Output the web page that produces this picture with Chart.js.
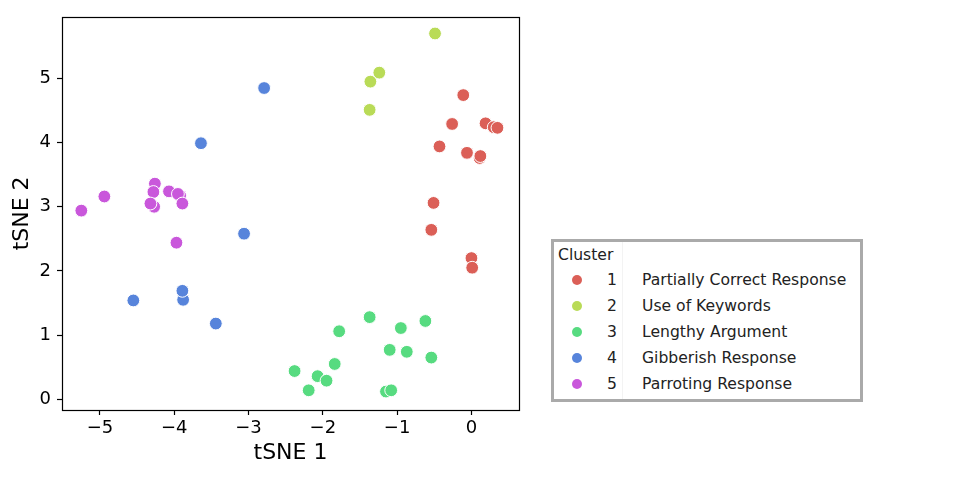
<!DOCTYPE html>
<html>
<head>
<meta charset="utf-8">
<script src="https://cdn.jsdelivr.net/npm/chart.js@4"></script>
<style>
  html, body { margin: 0; padding: 0; background: #fff; }
  #wrap { position: relative; width: 960px; height: 480px; }
  #legend {
    position: absolute; left: 551px; top: 239px; width: 306px; height: 157px;
    border: 3px solid #aaaaaa; background: #fff;
    font-family: "DejaVu Sans", sans-serif; font-size: 15.6px; color: #222;
  }
  #legend .title { position: absolute; left: 4px; top: 2px; line-height: 22px; }
  #legend .row { position: absolute; left: 0; height: 22px; line-height: 22px; width: 100%; }
  #legend .dot { position: absolute; left: 18px; top: 6px; width: 10px; height: 10px; border-radius: 50%; }
  #legend .num { position: absolute; left: 48px; width: 20px; text-align: center; }
  #legend .lab { position: absolute; left: 88px; white-space: nowrap; }
  #legend .sep { position: absolute; left: 68px; top: 0; bottom: 0; width: 1px; background: #f3f3f3; }
</style>
</head>
<body>
<div id="wrap">
  <canvas id="c" width="960" height="480"></canvas>
  <div id="legend"></div>
</div>
<script>
// ---- data ----
const clusterIds = ["1", "2", "3", "4", "5"];
const clusterNames = ["Partially Correct Response", "Use of Keywords", "Lengthy Argument", "Gibberish Response", "Parroting Response"];
const clusterColors = ["#db5f57", "#b9db57", "#57db80", "#5784db", "#c957db"];
const legendTitle = "Cluster";
const xTitle = "tSNE 1";
const yTitle = "tSNE 2";
const xTickValues = [-5, -4, -3, -2, -1, 0];
const yTickValues = [0, 1, 2, 3, 4, 5];

const c1x = [-0.11, -0.26, 0.19, 0.30, 0.35, -0.43, -0.06, 0.11, 0.12, -0.51, -0.54, 0.00, 0.01];
const c1y = [4.74, 4.29, 4.30, 4.24, 4.23, 3.94, 3.84, 3.76, 3.79, 3.06, 2.64, 2.20, 2.05];
const c2x = [-0.49, -1.24, -1.36, -1.37];
const c2y = [5.70, 5.09, 4.95, 4.51];
const c3x = [-1.37, -1.78, -0.62, -0.95, -1.10, -0.87, -0.54, -1.84, -2.38, -2.07, -1.95, -2.19, -1.15, -1.08];
const c3y = [1.28, 1.06, 1.22, 1.11, 0.77, 0.74, 0.65, 0.55, 0.44, 0.36, 0.29, 0.14, 0.12, 0.14];
const c4x = [-2.79, -3.64, -3.06, -3.88, -3.89, -4.55, -3.44];
const c4y = [4.85, 3.99, 2.58, 1.55, 1.69, 1.54, 1.18];
const c5x = [-5.25, -4.94, -4.26, -4.28, -4.07, -3.92, -3.95, -3.89, -4.27, -4.32, -3.97];
const c5y = [2.94, 3.16, 3.36, 3.23, 3.24, 3.17, 3.20, 3.05, 3.00, 3.05, 2.44];

const clusterX = [c1x, c2x, c3x, c4x, c5x];
const clusterY = [c1y, c2y, c3y, c4y, c5y];

// ---- chart ----
const fam = "'DejaVu Sans', sans-serif";
const datasets = clusterIds.map((id, i) => ({
  label: id,
  data: clusterX[i].map((x, k) => ({ x: x, y: clusterY[i][k] })),
  backgroundColor: clusterColors[i],
  borderColor: "#ffffff",
  borderWidth: 1,
  pointRadius: 6.4,
  pointHoverRadius: 6.4
}));

const minus = v => (v < 0 ? "\u2212" + Math.abs(v) : String(v));

const framePlugin = {
  id: "frame",
  afterDraw(chart) {
    const a = chart.chartArea, ctx = chart.ctx;
    ctx.save();
    ctx.strokeStyle = "#000";
    ctx.lineWidth = 1.2;
    ctx.strokeRect(Math.round(a.left) + 0.5, Math.round(a.top) + 0.5,
                   Math.round(a.right - a.left), Math.round(a.bottom - a.top));
    ctx.restore();
  }
};

new Chart(document.getElementById("c"), {
  type: "scatter",
  data: { datasets },
  options: {
    responsive: false,
    animation: false,
    devicePixelRatio: 1,
    layout: { padding: { top: 14, right: 441, left: 0, bottom: 0 } },
    plugins: { legend: { display: false }, tooltip: { enabled: false } },
    scales: {
      x: {
        type: "linear", min: -5.51, max: 0.64,
        afterFit: s => { s.height = 70; },
        afterBuildTicks: s => { s.ticks = xTickValues.map(v => ({ value: v })); },
        grid: { drawOnChartArea: false, drawTicks: true, tickLength: 5, tickColor: "#000", tickWidth: 1.2 },
        border: { display: false },
        ticks: { color: "#000", font: { family: fam, size: 18 }, padding: 3, callback: v => minus(v), maxRotation: 0 },
        title: { display: true, text: xTitle, color: "#000", font: { family: fam, size: 22 }, padding: { top: 0, bottom: 14 } }
      },
      y: {
        type: "linear", min: -0.167, max: 5.96,
        afterFit: s => { s.width = 62; },
        afterBuildTicks: s => { s.ticks = yTickValues.map(v => ({ value: v })); },
        grid: { drawOnChartArea: false, drawTicks: true, tickLength: 5, tickColor: "#000", tickWidth: 1.2 },
        border: { display: false },
        ticks: { color: "#000", font: { family: fam, size: 18 }, padding: 6, callback: v => minus(v) },
        title: { display: true, text: yTitle, color: "#000", font: { family: fam, size: 22 }, padding: { top: 9, bottom: 0 } }
      }
    }
  },
  plugins: [framePlugin]
});

// ---- legend (HTML) ----
const lg = document.getElementById("legend");
const t = document.createElement("div");
t.className = "title"; t.textContent = legendTitle; lg.appendChild(t);
const sep = document.createElement("div"); sep.className = "sep"; lg.appendChild(sep);
clusterIds.forEach((id, i) => {
  const r = document.createElement("div");
  r.className = "row";
  r.style.top = (27 + i * 26) + "px";
  const d = document.createElement("span"); d.className = "dot"; d.style.background = clusterColors[i];
  const n = document.createElement("span"); n.className = "num"; n.textContent = id;
  const l = document.createElement("span"); l.className = "lab"; l.textContent = clusterNames[i];
  r.appendChild(d); r.appendChild(n); r.appendChild(l);
  lg.appendChild(r);
});
</script>
</body>
</html>
